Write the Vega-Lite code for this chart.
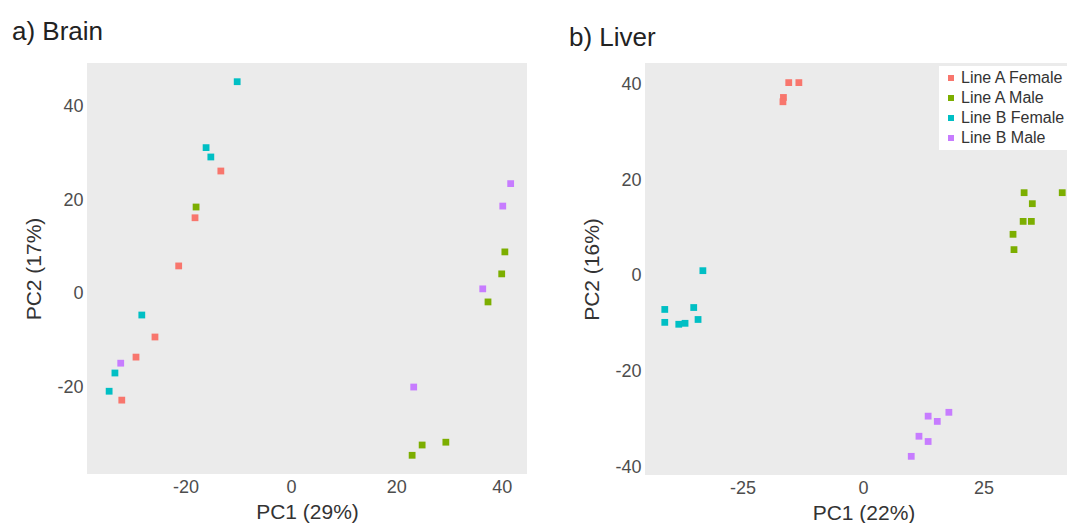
{
  "$schema": "https://vega.github.io/schema/vega-lite/v6.json",
  "background": "white",
  "padding": {"left": 11, "top": 19, "right": 0, "bottom": 0},
  "spacing": 41,
  "config": {
    "font": "Liberation Sans",
    "view": {"fill": "#ebebeb", "stroke": null},
    "axis": {
      "domain": false, "grid": false, "ticks": false,
      "labelFont": "Liberation Sans", "labelFontSize": 18, "labelColor": "#4d4d4d",
      "labelPadding": 4,
      "labelExpr": "replace(datum.label, '\u2212', '-')",
      "titleFont": "Liberation Sans", "titleFontSize": 21, "titleFontWeight": "normal", "titleColor": "#333333"
    },
    "axisX": {"titlePadding": 5},
    "axisY": {"titlePadding": 12},
    "title": {"font": "Liberation Sans", "fontSize": 26, "fontWeight": "normal", "color": "#222222", "anchor": "start"}
  },
  "datasets": {
    "brain": [
      {"group": "Line A Female", "pc1": -13.3, "pc2": 26.3},
      {"group": "Line A Female", "pc1": -18.2, "pc2": 16.3},
      {"group": "Line A Female", "pc1": -21.3, "pc2": 6.0},
      {"group": "Line A Female", "pc1": -25.8, "pc2": -9.2},
      {"group": "Line A Female", "pc1": -29.4, "pc2": -13.5},
      {"group": "Line A Female", "pc1": -32.1, "pc2": -22.7},
      {"group": "Line A Male", "pc1": -18.0, "pc2": 18.6},
      {"group": "Line A Male", "pc1": 40.6, "pc2": 9.0},
      {"group": "Line A Male", "pc1": 40.0, "pc2": 4.3},
      {"group": "Line A Male", "pc1": 37.4, "pc2": -1.7},
      {"group": "Line A Male", "pc1": 29.4, "pc2": -31.7},
      {"group": "Line A Male", "pc1": 24.9, "pc2": -32.3},
      {"group": "Line A Male", "pc1": 23.0, "pc2": -34.5},
      {"group": "Line B Female", "pc1": -10.2, "pc2": 45.4},
      {"group": "Line B Female", "pc1": -16.1, "pc2": 31.3},
      {"group": "Line B Female", "pc1": -15.2, "pc2": 29.3},
      {"group": "Line B Female", "pc1": -28.3, "pc2": -4.5},
      {"group": "Line B Female", "pc1": -33.4, "pc2": -16.9},
      {"group": "Line B Female", "pc1": -34.5, "pc2": -20.8},
      {"group": "Line B Male", "pc1": 41.7, "pc2": 23.6},
      {"group": "Line B Male", "pc1": 40.2, "pc2": 18.8},
      {"group": "Line B Male", "pc1": 36.4, "pc2": 1.1},
      {"group": "Line B Male", "pc1": 23.3, "pc2": -19.9},
      {"group": "Line B Male", "pc1": -32.3, "pc2": -14.8}
    ],
    "liver": [
      {"group": "Line A Female", "pc1": -15.4, "pc2": 40.4},
      {"group": "Line A Female", "pc1": -13.3, "pc2": 40.4},
      {"group": "Line A Female", "pc1": -16.5, "pc2": 37.3},
      {"group": "Line A Female", "pc1": -16.6, "pc2": 36.4},
      {"group": "Line A Male", "pc1": 33.4, "pc2": 17.4},
      {"group": "Line A Male", "pc1": 41.3, "pc2": 17.4},
      {"group": "Line A Male", "pc1": 35.1, "pc2": 15.1},
      {"group": "Line A Male", "pc1": 33.2, "pc2": 11.4},
      {"group": "Line A Male", "pc1": 34.9, "pc2": 11.4},
      {"group": "Line A Male", "pc1": 31.1, "pc2": 8.7},
      {"group": "Line A Male", "pc1": 31.3, "pc2": 5.5},
      {"group": "Line B Female", "pc1": -33.2, "pc2": 1.1},
      {"group": "Line B Female", "pc1": -41.1, "pc2": -7.0},
      {"group": "Line B Female", "pc1": -41.1, "pc2": -9.7},
      {"group": "Line B Female", "pc1": -38.2, "pc2": -10.1},
      {"group": "Line B Female", "pc1": -36.9, "pc2": -9.9},
      {"group": "Line B Female", "pc1": -35.1, "pc2": -6.6},
      {"group": "Line B Female", "pc1": -34.2, "pc2": -9.1},
      {"group": "Line B Male", "pc1": 17.8, "pc2": -28.5},
      {"group": "Line B Male", "pc1": 13.5, "pc2": -29.3},
      {"group": "Line B Male", "pc1": 15.4, "pc2": -30.4},
      {"group": "Line B Male", "pc1": 11.6, "pc2": -33.5},
      {"group": "Line B Male", "pc1": 13.5, "pc2": -34.6},
      {"group": "Line B Male", "pc1": 10.0, "pc2": -37.7}
    ]
  },
  "resolve": {"legend": {"color": "independent"}},
  "hconcat": [
    {
      "title": {"text": "a) Brain", "dx": -12, "offset": 18},
      "width": 440,
      "height": 411,
      "data": {"name": "brain"},
      "mark": {"type": "point", "shape": "square", "filled": true, "opacity": 1, "size": 46},
      "encoding": {
        "x": {"field": "pc1", "type": "quantitative", "title": "PC1 (29%)",
              "scale": {"domain": [-38.7, 44.8], "nice": false, "zero": false},
              "axis": {"values": [-20, 0, 20, 40]}},
        "y": {"field": "pc2", "type": "quantitative", "title": "PC2 (17%)",
              "scale": {"domain": [-38.5, 49.4], "nice": false, "zero": false},
              "axis": {"values": [-20, 0, 20, 40]}},
        "color": {"field": "group", "type": "nominal", "legend": null,
                  "scale": {"domain": ["Line A Female", "Line A Male", "Line B Female", "Line B Male"],
                            "range": ["#F8766D", "#7CAE00", "#00BFC4", "#C77CFF"]}}
      }
    },
    {
      "title": {"text": "b) Liver", "dx": -13, "offset": 12},
      "width": 437,
      "height": 412,
      "data": {"name": "liver"},
      "mark": {"type": "point", "shape": "square", "filled": true, "opacity": 1, "size": 46},
      "encoding": {
        "x": {"field": "pc1", "type": "quantitative", "title": "PC1 (22%)",
              "scale": {"domain": [-45.2, 45.4], "nice": false, "zero": false},
              "axis": {"values": [-25, 0, 25]}},
        "y": {"field": "pc2", "type": "quantitative", "title": "PC2 (16%)",
              "scale": {"domain": [-41.6, 44.5], "nice": false, "zero": false},
              "axis": {"values": [-40, -20, 0, 20, 40]}},
        "color": {"field": "group", "type": "nominal",
                  "scale": {"domain": ["Line A Female", "Line A Male", "Line B Female", "Line B Male"],
                            "range": ["#F8766D", "#7CAE00", "#00BFC4", "#C77CFF"]},
                  "legend": {"title": null, "orient": "none", "legendX": 294, "legendY": 3,
                             "fillColor": "white", "padding": 4, "symbolType": "square", "symbolSize": 36,
                             "labelFont": "Liberation Sans", "labelFontSize": 16, "labelColor": "#333333",
                             "rowPadding": 4, "symbolOffset": 0, "labelOffset": 2, "labelLimit": 300}}
      }
    }
  ]
}
